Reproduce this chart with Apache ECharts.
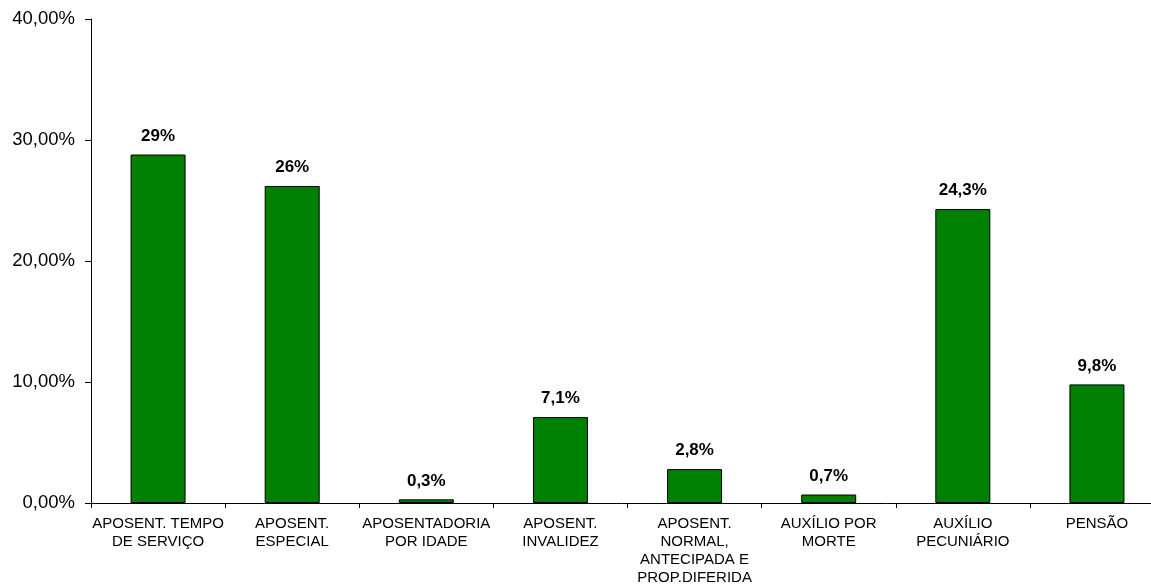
<!DOCTYPE html>
<html><head><meta charset="utf-8">
<script src="https://cdn.jsdelivr.net/npm/echarts@6/dist/echarts.min.js"></script>
<style>html,body{margin:0;padding:0;background:#fff;overflow:hidden}
#c{width:1151px;height:585px}</style>
</head><body><div id="c"></div>
<script>
const categories = ["APOSENT. TEMPO\nDE SERVIÇO","APOSENT.\nESPECIAL","APOSENTADORIA\nPOR IDADE","APOSENT.\nINVALIDEZ","APOSENT.\nNORMAL,\nANTECIPADA E\nPROP.DIFERIDA","AUXÍLIO POR\nMORTE","AUXÍLIO\nPECUNIÁRIO","PENSÃO"];
const values = [28.8, 26.2, 0.3, 7.1, 2.8, 0.7, 24.3, 9.8];
const valueLabels = ["29%","26%","0,3%","7,1%","2,8%","0,7%","24,3%","9,8%"];
const yTicks = [0,10,20,30,40];

const chart = echarts.init(document.getElementById('c'));
chart.setOption({
  animation:false,
  grid:{left:91, top:19, width:1073, height:484, containLabel:false, outerBoundsMode:'none'},
  xAxis:{type:'category', data:categories,
    axisLine:{lineStyle:{color:'#000',width:1}},
    axisTick:{show:true, alignWithLabel:false, length:5, lineStyle:{color:'#000'}},
    axisLabel:{interval:0, color:'#000', fontFamily:'Liberation Sans, Arial', fontSize:15, lineHeight:18, margin:12}
  },
  yAxis:{type:'value', min:yTicks[0], max:yTicks[yTicks.length-1], interval:10,
    axisLine:{show:true, lineStyle:{color:'#000',width:1}},
    axisTick:{show:true, inside:false, length:6, lineStyle:{color:'#000'}},
    splitLine:{show:false},
    axisLabel:{color:'#000', fontFamily:'Liberation Sans, Arial', fontSize:18.5, margin:16,
      formatter:v=>v.toFixed(2).replace('.',',')+'%'}
  },
  series:[{type:'bar', data:values, barWidth:55,
    itemStyle:{color:'#008000', borderColor:'#000', borderWidth:1},
    label:{show:true, position:'top', distance:10, color:'#000', fontWeight:'bold', fontSize:17,
      fontFamily:'Liberation Sans, Arial', formatter:p=>valueLabels[p.dataIndex]}
  }]
});
</script></body></html>
